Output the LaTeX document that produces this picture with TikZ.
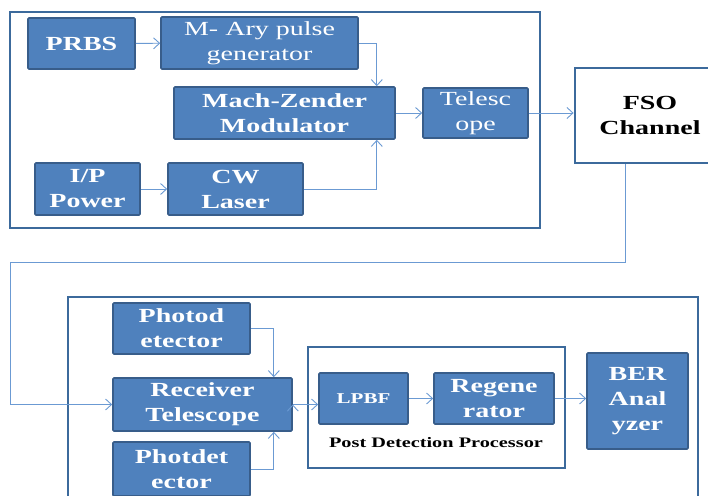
\documentclass[tikz,border=0pt]{standalone}
\usepackage{fontspec}
\setmainfont{Liberation Serif}[FakeStretch=1.4]
\usetikzlibrary{arrows.meta}
\definecolor{boxfill}{HTML}{4F81BD}
\definecolor{boxline}{HTML}{385D8A}
\definecolor{wire}{HTML}{6B9AD3}
\definecolor{frame}{HTML}{3C6A9C}

\begin{document}
\begin{tikzpicture}[x=1pt,y=-1pt,>={Straight Barb[length=6pt,width=11pt]},
    block/.style={draw=boxline,fill=boxfill,line width=1.6pt,rounded corners=1pt,
        text=white,align=center,inner sep=1pt,
        font=\fontsize{20}{25}\selectfont\bfseries},
    thin block/.style={block,font=\fontsize{20}{25}\selectfont},
    wire/.style={draw=wire,line width=0.9pt},
    frame/.style={draw=frame,line width=2.8pt}]
            \useasboundingbox (0,0) rectangle (708,495);
            \clip (0,0) rectangle (708,495);

            \draw[frame] (10,12) rectangle (540,228);
            \draw[frame] (68,297) rectangle (698,530);
            \draw[frame,line width=2.2pt] (308,347) rectangle (565,468);

            \node[block, minimum width=107, minimum height=51] (prbs)  at (81.5,43.5)  {PRBS};
            \node[thin block, minimum width=197, minimum height=52] (mary) at (259.5,43) {M- Ary pulse\\generator};
            \node[block, minimum width=221, minimum height=52] (mzm)   at (284.5,113) {Mach-Zender\\Modulator};
            \node[thin block, minimum width=105, minimum height=50] (tele) at (475.5,113) {Telesc\\ope};
            \node[block, minimum width=105, minimum height=52] (ipp)   at (87.5,189)  {I/P\\Power};
            \node[block, minimum width=135, minimum height=52] (cw)    at (235.5,189) {CW\\Laser};
            \node[draw=frame, line width=2.8pt, fill=white, align=center,
                  font=\fontsize{20}{25}\selectfont\bfseries,
                  minimum width=150, minimum height=95] (fso) at (650,115.5) {FSO\\Channel};

            \node[block, minimum width=137, minimum height=51] (pd1)   at (181.5,328.5) {Photod\\etector};
            \node[block, minimum width=179, minimum height=53] (rx)    at (202.5,404.5) {Receiver\\Telescope};
            \node[block, minimum width=137, minimum height=54] (pd2)   at (181.5,469)   {Photdet\\ector};
            \node[block, font=\fontsize{15}{18}\selectfont\bfseries,
                  minimum width=89, minimum height=51] (lpbf)           at (363.5,398.5) {LPBF};
            \node[block, minimum width=120, minimum height=51] (regen)  at (494,398.5)   {Regene\\rator};
            \node[block, minimum width=101, minimum height=96] (ber)    at (637.5,401)   {BER\\Anal\\yzer};
            \node[font=\fontsize{14.5}{17}\selectfont\bfseries, inner sep=0pt] (pdp) at (436,443) {Post Detection Processor};

            \coordinate (turn) at (10,262);

            \path[wire,->]
                (prbs) edge (mary)
                (ipp) edge (cw)
                (mzm) edge (tele)
                (lpbf) edge (regen)
                (rx.east) edge (rx.east -| lpbf.west)
                ;
            \draw[wire,->] (mary.east) -| ([xshift=-19pt]mzm.north east);
            \draw[wire,->] (cw.east) -| ([xshift=-19pt]mzm.south east);
            \draw[wire,->] (tele.east) -- (tele.east -| fso.west);
            \draw[wire,->] ([xshift=-25pt]fso.south) |- (turn) |- (rx.west);
            \draw[wire,->] (pd1.east) -| ([xshift=-19pt]rx.north east);
            \draw[wire,->] (pd2.east) -| ([xshift=-19pt]rx.south east);
            \draw[wire,->] (regen.east) -- (regen.east -| ber.west);
\end{tikzpicture}
\end{document}
